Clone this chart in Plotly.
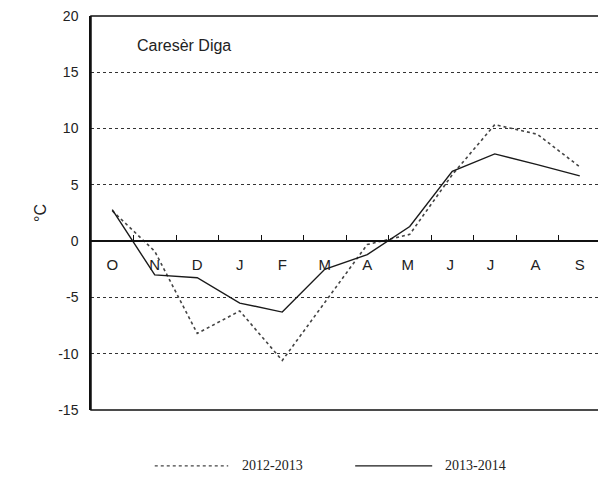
import plotly.graph_objects as go

months = ["O", "N", "D", "J", "F", "M", "A", "M ", "J ", "J  ", "A ", "S"]
temp_2012_2013 = [2.7, -0.9, -8.2, -6.2, -10.6, -5.5, -0.3, 0.6, 5.9, 10.35, 9.5, 6.6]
temp_2013_2014 = [2.8, -3.0, -3.25, -5.5, -6.3, -2.5, -1.2, 1.3, 6.2, 7.75, 6.8, 5.8]
y_ticks = [-15, -10, -5, 0, 5, 10, 15, 20]

fig = go.Figure()

fig.add_trace(go.Scatter(
    x=months, y=temp_2012_2013, mode="lines", name="2012-2013",
    line=dict(color="#444444", width=1.6, dash="dot")
))
fig.add_trace(go.Scatter(
    x=months, y=temp_2013_2014, mode="lines", name="2013-2014",
    line=dict(color="#1a1a1a", width=1.4)
))

# page body has an 8px margin, so the figure is shrunk to fit the window
fig.update_layout(
    width=598, height=475,
    margin=dict(l=83, r=5, t=8, b=73),
    paper_bgcolor="white", plot_bgcolor="white",
    showlegend=False,
    font=dict(family="Liberation Sans, Arial", size=14, color="#222222"),
)

fig.update_xaxes(
    type="category",
    range=[-0.5, 11.5],
    anchor="free", position=15 / 35,
    automargin=False,
    showline=True, linecolor="#111111", linewidth=1.5,
    ticks="inside", ticklen=5, tickcolor="#111111", tickson="boundaries",
    ticklabelstandoff=10,
    showgrid=False, zeroline=False,
    tickfont=dict(size=15),
)
fig.update_yaxes(
    range=[-15, 20],
    tickvals=y_ticks,
    ticktext=[str(v) for v in y_ticks],
    ticklabeloverflow="allow",
    automargin=False,
    showgrid=True, gridcolor="#333333", griddash="dot", gridwidth=1,
    zeroline=False,
    showline=True, linecolor="#111111", linewidth=1.5,
    ticks="", ticklabelstandoff=8,
    title=dict(text="°C", standoff=8, font=dict(size=16)),
)

# plot frame
fig.add_shape(type="rect", xref="paper", yref="paper", x0=0, x1=1, y0=0, y1=1,
              line=dict(color="#111111", width=1.5), layer="above")

fig.add_annotation(x=0.086, y=0.926, xref="paper", yref="paper", text="Caresèr Diga",
                   showarrow=False, xanchor="left", yanchor="middle",
                   font=dict(size=16, color="#222222"))

# legend drawn below the plot
legend_items = [("2012-2013", "dot", "#444444", 0.125, 0.269, 0.292),
                ("2013-2014", "solid", "#1a1a1a", 0.518, 0.669, 0.690)]
for label, dash, color, lx0, lx1, tx in legend_items:
    fig.add_shape(type="line", xref="paper", yref="paper", x0=lx0, x1=lx1,
                  y0=-0.142, y1=-0.142, line=dict(color=color, width=1.2, dash=dash))
    fig.add_annotation(x=tx, y=-0.142, xref="paper", yref="paper", text=label,
                       showarrow=False, xanchor="left", yanchor="middle",
                       font=dict(family="Liberation Serif, Times New Roman", size=14,
                                 color="#222222"))

fig.write_html("out.html")
